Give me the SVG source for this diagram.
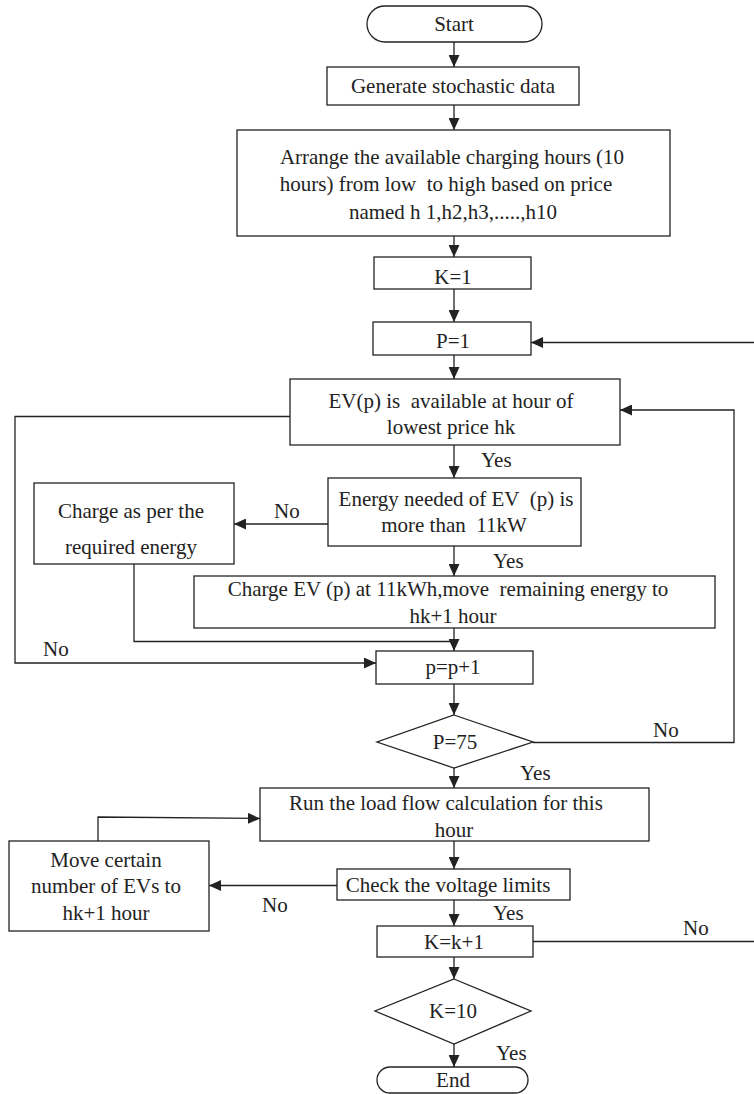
<svg xmlns="http://www.w3.org/2000/svg" width="754" height="1094" viewBox="0 0 754 1094">
<style>
.b{fill:#fff;stroke:#222;stroke-width:1.3}
.t{font-family:'Liberation Serif','Times New Roman',serif;font-size:21px;fill:#222;text-anchor:middle;white-space:pre}
.l{font-family:'Liberation Serif','Times New Roman',serif;font-size:21px;fill:#222;white-space:pre}
.c{fill:none;stroke:#222;stroke-width:1.3}
</style>
<defs>
<marker id="a" markerUnits="userSpaceOnUse" markerWidth="12" markerHeight="11" refX="12" refY="5.5" orient="auto">
<path d="M0,0 L12,5.5 L0,11 z" fill="#222"/>
</marker>
</defs>
<rect width="754" height="1094" fill="#fff"/>
<g id="connectors">
<line class="c" x1="454" y1="42" x2="454" y2="67" marker-end="url(#a)"/>
<line class="c" x1="454" y1="105" x2="454" y2="130" marker-end="url(#a)"/>
<line class="c" x1="454" y1="236" x2="454" y2="257" marker-end="url(#a)"/>
<line class="c" x1="454" y1="289" x2="454" y2="322" marker-end="url(#a)"/>
<line class="c" x1="454" y1="355" x2="454" y2="379" marker-end="url(#a)"/>
<line class="c" x1="454" y1="445" x2="454" y2="478" marker-end="url(#a)"/>
<line class="c" x1="328" y1="524" x2="234" y2="524" marker-end="url(#a)"/>
<line class="c" x1="454" y1="546" x2="454" y2="576" marker-end="url(#a)"/>
<polyline class="c" points="134,564 134,641.5 454,641.5"/>
<line class="c" x1="454" y1="628" x2="454" y2="651" marker-end="url(#a)"/>
<polyline class="c" points="290,416.5 15,416.5 15,663 376,663" marker-end="url(#a)"/>
<line class="c" x1="454" y1="684" x2="454" y2="715" marker-end="url(#a)"/>
<polyline class="c" points="533,742.5 734,742.5 734,410 620,410" marker-end="url(#a)"/>
<line class="c" x1="454" y1="768" x2="454" y2="788" marker-end="url(#a)"/>
<polyline class="c" points="98,841 98,817 260,818.5" marker-end="url(#a)"/>
<line class="c" x1="454" y1="841" x2="454" y2="869" marker-end="url(#a)"/>
<line class="c" x1="337" y1="885.5" x2="209" y2="885.5" marker-end="url(#a)"/>
<line class="c" x1="454" y1="900" x2="454" y2="926" marker-end="url(#a)"/>
<line class="c" x1="533" y1="941.5" x2="754" y2="941.5"/>
<line class="c" x1="754" y1="342.5" x2="531" y2="342.5" marker-end="url(#a)"/>
<line class="c" x1="454" y1="957" x2="454" y2="979" marker-end="url(#a)"/>
<line class="c" x1="454" y1="1044" x2="454" y2="1067" marker-end="url(#a)"/>
<text class="l" x="481" y="467">Yes</text>
<text class="l" x="274" y="518">No</text>
<text class="l" x="493" y="568">Yes</text>
<text class="l" x="43" y="656">No</text>
<text class="l" x="653" y="737">No</text>
<text class="l" x="520" y="780">Yes</text>
<text class="l" x="262" y="912">No</text>
<text class="l" x="493" y="920">Yes</text>
<text class="l" x="683" y="935">No</text>
<text class="l" x="496" y="1060">Yes</text>
</g>
<g id="start">
<rect class="b" x="367" y="6" width="175" height="36" rx="18"/>
<text class="t" x="454" y="31">Start</text>
</g>
<g id="generate">
<rect class="b" x="327" y="67" width="252" height="38"/>
<text class="t" x="453" y="93">Generate stochastic data</text>
</g>
<g id="arrange">
<rect class="b" x="237" y="130" width="433" height="106"/>
<text class="t" x="452" y="163.5">Arrange the available charging hours (10</text>
<text class="t" x="446" y="191">hours) from low  to high based on price</text>
<text class="t" x="453" y="218.5">named h 1,h2,h3,.....,h10</text>
</g>
<g id="k1">
<rect class="b" x="374" y="257" width="157" height="32"/>
<text class="t" x="453" y="283.5">K=1</text>
</g>
<g id="p1">
<rect class="b" x="373" y="322" width="158" height="33"/>
<text class="t" x="453" y="348">P=1</text>
</g>
<g id="ev-available">
<rect class="b" x="290" y="379" width="330" height="66"/>
<text class="t" x="451" y="408">EV(p) is  available at hour of</text>
<text class="t" x="451" y="434">lowest price hk</text>
</g>
<g id="energy-needed">
<rect class="b" x="328" y="478" width="253" height="68"/>
<text class="t" x="456" y="506">Energy needed of EV  (p) is</text>
<text class="t" x="454" y="532">more than  11kW</text>
</g>
<g id="charge-required">
<rect class="b" x="34" y="483" width="200" height="81"/>
<text class="t" x="131" y="518">Charge as per the</text>
<text class="t" x="131" y="554">required energy</text>
</g>
<g id="charge-11kwh">
<rect class="b" x="194" y="576" width="521" height="52"/>
<text class="t" x="448" y="596">Charge EV (p) at 11kWh,move  remaining energy to</text>
<text class="t" x="453" y="623">hk+1 hour</text>
</g>
<g id="p-inc">
<rect class="b" x="376" y="651" width="157" height="33"/>
<text class="t" x="453" y="674">p=p+1</text>
</g>
<g id="p75">
<polygon class="b" points="454,715 533,742 454,768 377,742"/>
<text class="t" x="455" y="749">P=75</text>
</g>
<g id="load-flow">
<rect class="b" x="260" y="788" width="389" height="53"/>
<text class="t" x="446" y="810">Run the load flow calculation for this</text>
<text class="t" x="454" y="836.5">hour</text>
</g>
<g id="check-voltage">
<rect class="b" x="337" y="869" width="233" height="31"/>
<text class="t" x="448" y="891.5">Check the voltage limits</text>
</g>
<g id="move-evs">
<rect class="b" x="9" y="841" width="200" height="90"/>
<text class="t" x="106" y="866.5">Move certain</text>
<text class="t" x="106" y="893">number of EVs to</text>
<text class="t" x="106" y="919.5">hk+1 hour</text>
</g>
<g id="k-inc">
<rect class="b" x="377" y="926" width="156" height="31"/>
<text class="t" x="454" y="949">K=k+1</text>
</g>
<g id="k10">
<polygon class="b" points="454,979 531,1011 454,1044 375,1011"/>
<text class="t" x="453" y="1018">K=10</text>
</g>
<g id="end">
<rect class="b" x="377" y="1067" width="151" height="26" rx="13"/>
<text class="t" x="453" y="1087">End</text>
</g>
</svg>
